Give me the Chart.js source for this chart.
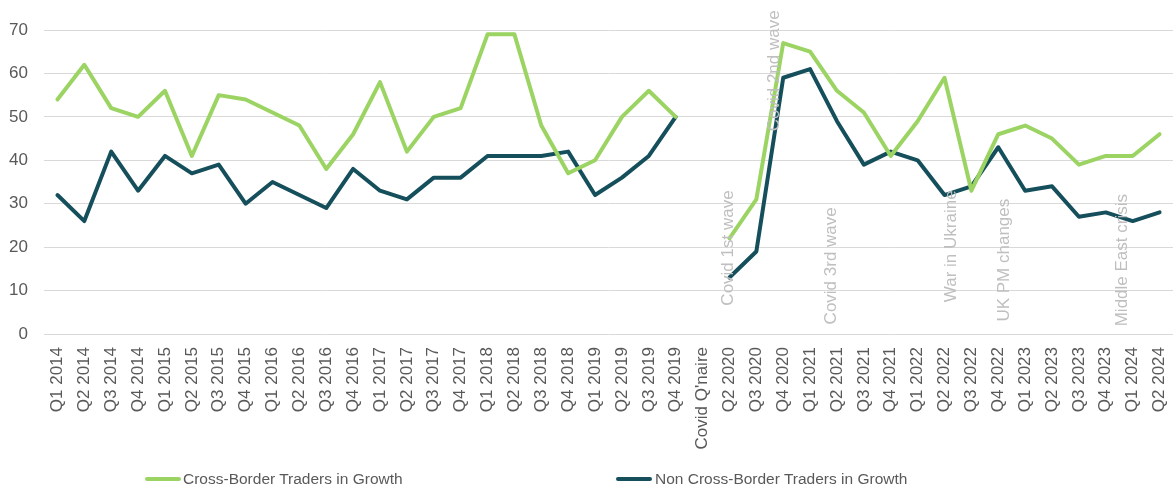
<!DOCTYPE html>
<html>
<head>
<meta charset="utf-8">
<script src="https://cdn.jsdelivr.net/npm/chart.js@4"></script>
<style>
  html, body { margin: 0; padding: 0; background: #fff; }
  #wrap { position: relative; width: 1173px; height: 490px; }
  canvas { position: absolute; left: 0; top: 0; }
  .leg { position: absolute; top: 468px; height: 22px; font-family: "Liberation Sans", Arial, sans-serif; font-size: 15.5px; color: #595959; line-height: 22px; white-space: nowrap; }
  .leg .sw { position: absolute; top: 9px; height: 4px; width: 36px; border-radius: 2px; }
  .leg span.t { position: absolute; top: 0; }
</style>
</head>
<body>
<div id="wrap">
  <canvas id="c" width="1173" height="490"></canvas>
  <div class="leg" style="left:145px"><div class="sw" style="left:0;background:#9BD463"></div><span class="t" style="left:38px">Cross-Border Traders in Growth</span></div>
  <div class="leg" style="left:616px"><div class="sw" style="left:0;background:#154F5C"></div><span class="t" style="left:39px">Non Cross-Border Traders in Growth</span></div>
</div>
<script>
const categories = [
  "Q1 2014","Q2 2014","Q3 2014","Q4 2014",
  "Q1 2015","Q2 2015","Q3 2015","Q4 2015",
  "Q1 2016","Q2 2016","Q3 2016","Q4 2016",
  "Q1 2017","Q2 2017","Q3 2017","Q4 2017",
  "Q1 2018","Q2 2018","Q3 2018","Q4 2018",
  "Q1 2019","Q2 2019","Q3 2019","Q4 2019",
  "Covid Q'naire",
  "Q2 2020","Q3 2020","Q4 2020",
  "Q1 2021","Q2 2021","Q3 2021","Q4 2021",
  "Q1 2022","Q2 2022","Q3 2022","Q4 2022",
  "Q1 2023","Q2 2023","Q3 2023","Q4 2023",
  "Q1 2024","Q2 2024"
];
const crossBorder = [
  54, 62, 52, 50,
  56, 41, 55, 54,
  51, 48, 38, 46,
  58, 42, 50, 52,
  69, 69, 48, 37,
  40, 50, 56, 50,
  null,
  22, 31, 67,
  65, 56, 51, 41,
  49, 59, 33, 46,
  48, 45, 39, 41,
  41, 46
];
const nonCrossBorder = [
  32, 26, 42, 33,
  41, 37, 39, 30,
  35, 32, 29, 38,
  33, 31, 36, 36,
  41, 41, 41, 42,
  32, 36, 41, 50,
  null,
  13, 19, 59,
  61, 49, 39, 42,
  40, 32, 34, 43,
  33, 34, 27, 28,
  26, 28
];
const yTicks = [0, 10, 20, 30, 40, 50, 60, 70];
const seriesNames = ["Cross-Border Traders in Growth", "Non Cross-Border Traders in Growth"];
const eventLabels = ["Covid 1st wave", "Covid 2nd wave", "Covid 3rd wave", "War in Ukraine", "UK PM changes", "Middle East crisis"];
const eventCategories = ["Q2 2020", "Q4 2020", "Q1 2021", "Q2 2022", "Q4 2022", "Q4 2023"];
const eventValues = [19.8, 60.6, 15.7, 20.2, 17, 17];

const FONT = '"Liberation Sans", Arial, sans-serif';
const eventShift = [-0.03, -0.33, 0.78, 0.25, 0.22, 0.62];

const eventPlugin = {
  id: 'events',
  afterDatasetsDraw(chart) {
    const ctx = chart.ctx;
    const xs = chart.scales.x, ys = chart.scales.y;
    ctx.save();
    ctx.fillStyle = '#BFBFBF';
    ctx.font = '17px ' + FONT;
    ctx.textAlign = 'center';
    ctx.textBaseline = 'middle';
    eventLabels.forEach((t, i) => {
      const idx = categories.indexOf(eventCategories[i]) + eventShift[i];
      const x = xs.getPixelForValue(idx);
      const y = ys.getPixelForValue(eventValues[i]);
      ctx.save();
      ctx.translate(x, y);
      ctx.rotate(-Math.PI / 2);
      ctx.fillText(t, 0, 0);
      ctx.restore();
    });
    ctx.restore();
  }
};

new Chart(document.getElementById('c'), {
  type: 'line',
  data: {
    labels: categories,
    datasets: [
      { label: seriesNames[0], data: crossBorder, borderColor: '#9BD463', backgroundColor: '#9BD463', borderWidth: 4, pointRadius: 0, tension: 0, spanGaps: false, borderJoinStyle: 'round', borderCapStyle: 'round' },
      { label: seriesNames[1], data: nonCrossBorder, borderColor: '#154F5C', backgroundColor: '#154F5C', borderWidth: 4, pointRadius: 0, tension: 0, spanGaps: false, borderJoinStyle: 'round', borderCapStyle: 'round' }
    ]
  },
  options: {
    responsive: false,
    animation: false,
    layout: { padding: { top: 30, right: 0, bottom: 0, left: 0 } },
    plugins: { legend: { display: false }, tooltip: { enabled: false } },
    scales: {
      x: {
        type: 'category',
        offset: true,
        grid: { display: false, drawTicks: false },
        border: { display: false },
        ticks: { autoSkip: false, minRotation: 90, maxRotation: 90, padding: 13, color: '#595959', font: { family: FONT, size: 17 } },
        afterFit(s) { s.height = 156; s.paddingLeft = 0; s.paddingRight = 0; }
      },
      y: {
        min: 0, max: 70,
        afterBuildTicks(s) { s.ticks = yTicks.map(v => ({ value: v })); },
        grid: { color: '#D9D9D9', lineWidth: 1, drawTicks: false },
        border: { display: false },
        ticks: { padding: 16, color: '#595959', font: { family: FONT, size: 17 } },
        afterFit(s) { s.width = 44; s.paddingTop = 0; s.paddingBottom = 0; }
      }
    }
  },
  plugins: [eventPlugin]
});
</script>
</body>
</html>
